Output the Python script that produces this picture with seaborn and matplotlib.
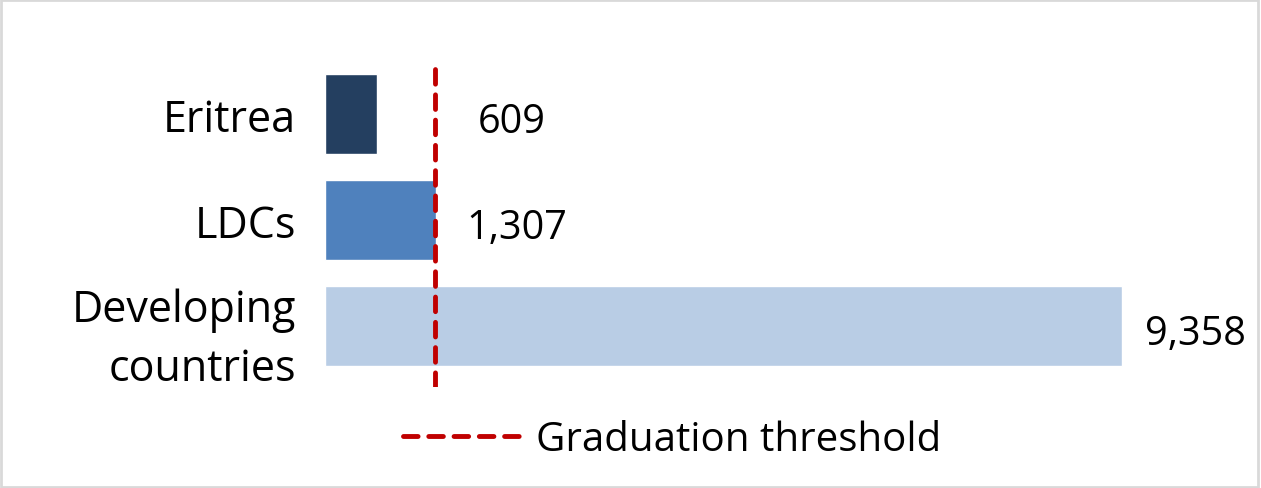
import matplotlib
matplotlib.use("Agg")
import matplotlib.pyplot as plt
import seaborn as sns
import pandas as pd
from matplotlib.lines import Line2D
from matplotlib.patches import Rectangle

categories = ["Eritrea", "LDCs", "Developing\ncountries"]
values = [609, 1307, 9358]
value_labels = ["609", "1,307", "9,358"]
label_x = [1796, 1655, 9624]
threshold = 1290
bar_colors = ["#243F60", "#4F81BD", "#B9CDE5"]

sns.set_theme(style="white")
plt.rcParams['font.family'] = ['Open Sans', 'DejaVu Sans']

df = pd.DataFrame({"group": categories, "value": values})

fig = plt.figure(figsize=(12.61, 4.89), dpi=100)
W, H = 1261, 489
# axes placement in pixels: x=0 at 325, y range 60..388
ax = fig.add_axes([325 / W, 1 - 388 / H, (1177 - 325) / W, (388 - 60) / H])

sns.barplot(data=df, y="group", x="value", hue="group", palette=bar_colors,
            orient="h", width=0.755, legend=False, ax=ax, saturation=1)

ax.axvline(threshold, color="#C00000", lw=3.5, ls=(0, (3, 2.2)),
           dash_capstyle="round", zorder=5)

for i, (lx, lab) in enumerate(zip(label_x, value_labels)):
    ax.text(lx, i + 0.07, lab, va="center", ha="left", fontsize=28.5, color="black")

ax.set_xlim(0, 10000)
ax.set_ylim(2.575, -0.519)
ax.set_xlabel("")
ax.set_ylabel("")
ax.set_xticks([])
ax.tick_params(axis="y", length=0, pad=21, labelsize=31, labelcolor="black")
for lbl in ax.get_yticklabels():
    lbl.set_horizontalalignment("right")
    lbl.set_linespacing(1.45)
for s in ax.spines.values():
    s.set_visible(False)

handle = Line2D([], [], color="#C00000", lw=3.5, ls=(0, (3, 2.2)),
                dash_capstyle="round")
fig.legend([handle], ["Graduation threshold"], loc="center",
           bbox_to_anchor=(672 / W, 1 - 441 / H), frameon=False,
           fontsize=29, handlelength=3.05, handletextpad=0.27, labelcolor="black")

fig.patches.append(Rectangle((0.001, 0.002), 0.997, 0.995, transform=fig.transFigure,
                             fill=False, edgecolor="#D9D9D9", lw=2))

fig.savefig("out.png", dpi=100)
